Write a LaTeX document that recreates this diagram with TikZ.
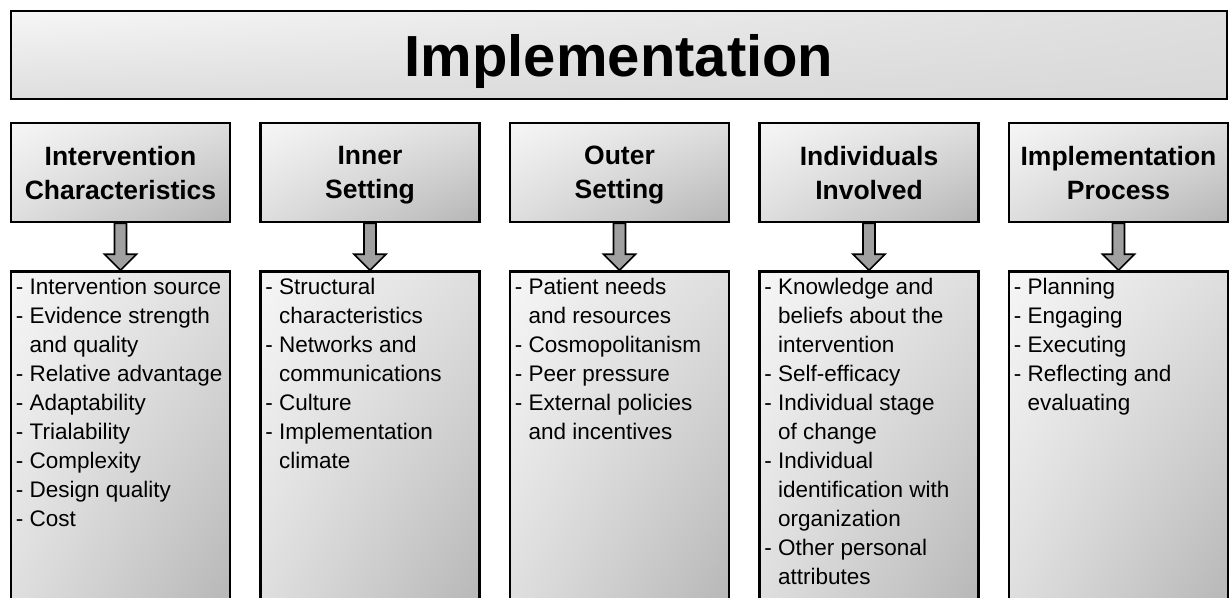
\documentclass[tikz,border=0pt]{standalone}
\usepackage{fontspec}
\setmainfont{Liberation Sans}
\usetikzlibrary{positioning, calc, shadings}
\definecolor{bxLight}{RGB}{246,246,246}
\definecolor{bxMid}  {RGB}{222,222,222}
\definecolor{bxDark} {RGB}{182,182,182}
\definecolor{arFill} {RGB}{160,160,160}

\begin{document}
\begin{tikzpicture}[x=1pt, y=-1pt, node distance=28pt,
    BOX/.style={draw, line width=2.5pt, shade, upper left=bxLight, upper right=bxMid, lower left=bxMid, lower right=bxDark},
    HEAD/.style={BOX, minimum width=219pt, minimum height=99pt, align=center, text depth=0pt, font=\fontsize{26.5}{34}\selectfont\bfseries},
    LIST/.style={BOX, minimum width=219pt, minimum height=340pt},
    ITEMS/.style={anchor=north west, inner sep=0pt, align=left, font=\fontsize{22.5}{29}\selectfont},
    BARR/.style={draw, line width=1.6pt, fill=arFill, line join=miter}]
    \useasboundingbox (0,0) rectangle (1231,597);
    \clip (0,0) rectangle (1231,597);
    \node[BOX, lower right=bxMid!85!bxDark, minimum width=1216pt, minimum height=88pt, text height=42pt, text depth=0pt, font=\fontsize{58}{60}\selectfont\bfseries] (impl) at (619,55) {Implementation};
    % the five domains
    \node[HEAD] (hd1) at (120.5,172.5) {Intervention\\Characteristics};
    \node[HEAD, right=of hd1] (hd2) {Inner\\Setting};
    \node[HEAD, right=of hd2] (hd3) {Outer\\Setting};
    \node[HEAD, right=of hd3] (hd4) {Individuals\\Involved};
    \node[HEAD, right=of hd4] (hd5) {Implementation\\Process};
    % constructs below each domain
    \foreach \i in {1,...,5} \node[LIST, below=47pt of hd\i] (lst\i) {};
    \def\ind{\hphantom{- }}
    \node[ITEMS] (it1) at ($(lst1.north west)+(6,8)$) {- Intervention source\\- Evidence strength\\\ind and quality\\- Relative advantage\\- Adaptability\\- Trialability\\- Complexity\\- Design quality\\- Cost};
    \node[ITEMS] (it2) at ($(lst2.north west)+(6,8)$) {- Structural\\\ind characteristics\\- Networks and\\\ind communications\\- Culture\\- Implementation\\\ind climate};
    \node[ITEMS] (it3) at ($(lst3.north west)+(6,8)$) {- Patient needs\\\ind and resources\\- Cosmopolitanism\\- Peer pressure\\- External policies\\\ind and incentives};
    \node[ITEMS] (it4) at ($(lst4.north west)+(6,8)$) {- Knowledge and\\\ind beliefs about the\\\ind intervention\\- Self-efficacy\\- Individual stage\\\ind of change\\- Individual\\\ind identification with\\\ind organization\\- Other personal\\\ind attributes};
    \node[ITEMS] (it5) at ($(lst5.north west)+(6,8)$) {- Planning\\- Engaging\\- Executing\\- Reflecting and\\\ind evaluating};
    % block arrows
    \foreach \i in {1,...,5}
        \draw[BARR] ($(hd\i.south)+(-6,0)$) -- ($(lst\i.north)+(-6,-16)$) -- ($(lst\i.north)+(-16,-16)$) -- (lst\i.north)
            -- ($(lst\i.north)+(16,-16)$) -- ($(lst\i.north)+(6,-16)$) -- ($(hd\i.south)+(6,0)$) -- cycle;
\end{tikzpicture}
\end{document}
